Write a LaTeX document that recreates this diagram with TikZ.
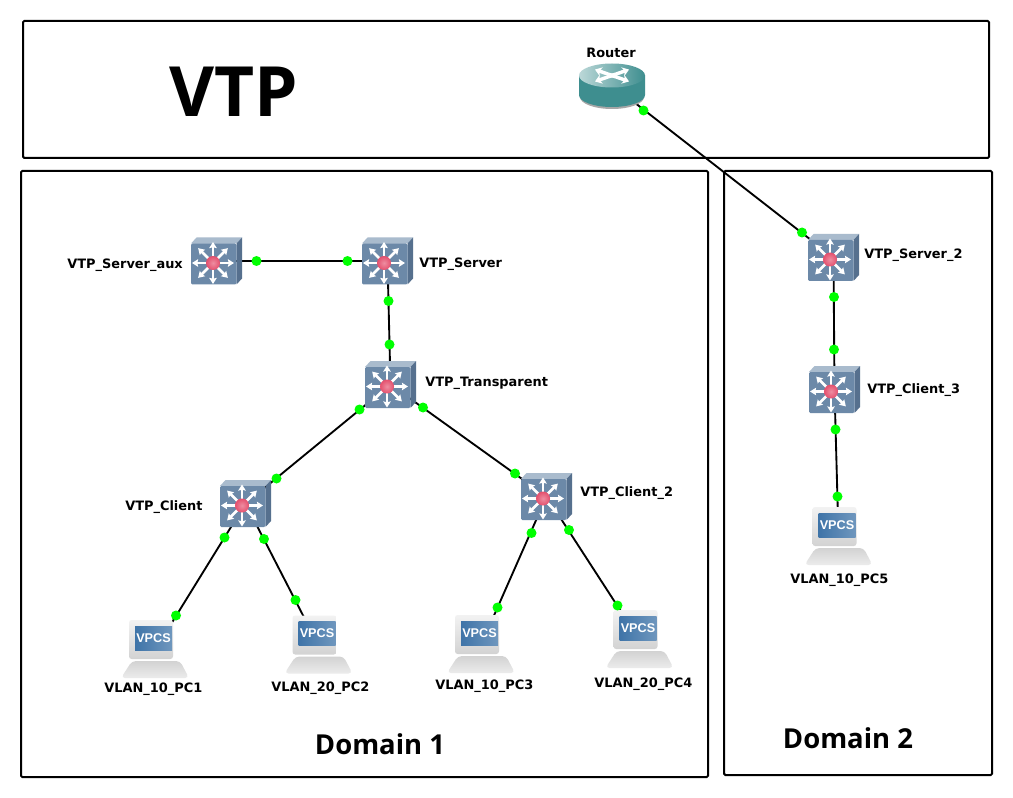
\documentclass[tikz,border=0pt]{standalone}
\usepackage{fontspec}
\setmainfont{DejaVu Sans}
\newfontfamily\titlefont{Open Sans}
\newfontfamily\vpcsfont{Liberation Sans}
\usetikzlibrary{backgrounds,arrows.meta}
\definecolor{swface}{HTML}{6C89A8}
\definecolor{swtop}{HTML}{A9BBCD}
\definecolor{swside}{HTML}{56708E}
\definecolor{swball}{HTML}{E4506E}
\definecolor{routerteal}{HTML}{3E8E8F}
\definecolor{vpcsblue}{HTML}{3F74A8}
\tikzset{
  box/.style={draw=black, line width=1.5pt, rounded corners=1pt},
  link/.style={draw=black, line width=1.4pt},
  port/.style={circle, fill=green, inner sep=0pt, minimum size=7.5pt},
  devlabel/.style={anchor=west, inner sep=0pt, font=\bfseries\fontsize{9.7}{11}\selectfont},
  device/.style={inner sep=0pt, minimum width=38pt, minimum height=35pt},
  spoke/.style={white, line width=2pt, -{Stealth[length=4.5pt,width=5.5pt,inset=0.5pt]}},
  pics/switchicon/.style={code={
    \fill[swtop] (-25.5,-17.5) -- (-20,-23.5) -- (25.5,-23.5) -- (20,-17.5) -- cycle;
    \fill[swside] (20,-17.5) -- (25.5,-23.5) -- (25.5,17.5) -- (20,23.5) -- cycle;
    \fill[swface, rounded corners=1pt] (-25.5,-17.5) rectangle (20,23.5);
    \foreach \a in {0,45,...,315}
      \draw[spoke] (-3.5,2) -- ++(\a:21);
    \shade[inner color=swball!65!white, outer color=swball] (-3.5,2) circle (7);
  }},
  pics/routericon/.style={code={
    \fill[gray!70] (-32,12) arc[start angle=180, end angle=0, x radius=32, y radius=12] -- cycle;
    \fill[routerteal] (-33,-9.5) -- (-33,10) arc[start angle=180, end angle=0, x radius=33, y radius=12] -- (33,-9.5) -- cycle;
    \shade[left color=routerteal!35!white, right color=routerteal] (0,-9.5) ellipse (33 and 12);
    \foreach \a/\b in {-20/-7,20/-7,-20/7,20/7}
      \draw[white, line width=2.6pt, -{Stealth[length=5pt,width=7pt]}] (-\a*0.15,-9.5-\b*0.15) -- ++(\a,\b);
  }},
  pics/pcicon/.style={code={
    \shade[top color=gray!35, bottom color=gray!15, rounded corners=3pt] (-23,11) -- (25,11) -- (34,28) -- (-34,28) -- cycle;
    \shade[top color=gray!10, bottom color=gray!35, rounded corners=2pt] (-26,-30) rectangle (18,9);
    \shade[left color=vpcsblue, right color=vpcsblue!75!white] (-20,-24) rectangle (17,0);
    \node[white, inner sep=0pt, font=\vpcsfont\bfseries\fontsize{9.5}{10}\selectfont] (\pcname text) at (-1.5,-12) {VPCS};
  }},
}
\begin{document}
\begin{tikzpicture}[x=0.75pt, y=-0.75pt]
\useasboundingbox (0,0) rectangle (1013,798);
\begin{pgfonlayer}{background}
\fill[white] (0,0) rectangle (1013,798);
\end{pgfonlayer}

\draw[box] (23,21) rectangle (989,158);
\draw[box] (21,171) rectangle (708,777);
\draw[box] (724,171) rectangle (992,775);

\node[font=\titlefont\bfseries\fontsize{52}{54}\selectfont, inner sep=0pt] (title) at (234,92) {VTP};
\node[font=\titlefont\bfseries\fontsize{20.6}{24}\selectfont, inner sep=0pt] (domain1) at (380,744) {Domain 1};
\node[font=\titlefont\bfseries\fontsize{20.6}{24}\selectfont, inner sep=0pt] (domain2) at (848,738) {Domain 2};

\node[device] (router) at (612,85) {};
\path (router) pic {routericon};
\node[devlabel, anchor=center] (routerlabel) at (611,52.5) {Router};

% switches
\foreach \n/\x/\y/\lx/\ly/\t in {
  aux/216.5/261/67/265/VTP\_Server\_aux,
  server/387.5/261/419/264.5/VTP\_Server,
  transparent/390.5/384.5/425/383.5/VTP\_Transparent,
  client/245.5/503.5/125/507.5/VTP\_Client,
  clienttwo/546.5/496.5/580/493.5/VTP\_Client\_2,
  servertwo/833.5/257.5/864/255.5/VTP\_Server\_2,
  clientthree/834.5/389.5/867/390.5/VTP\_Client\_3} {
  \node[device] (\n) at (\x,\y) {};
  \path (\n) pic {switchicon};
  \node[devlabel] (\n label) at (\lx,\ly) {\t};
}

% pcs
\foreach \n/\x/\y/\lx/\ly/\t in {
  pca/155/650/104/689.5/VLAN\_10\_PC1,
  pcb/318.5/645.5/271/688.5/VLAN\_20\_PC2,
  pcc/481/645/435/686.5/VLAN\_10\_PC3,
  pcd/639.5/640/594/684.5/VLAN\_20\_PC4,
  pce/838.5/537/790/580.5/VLAN\_10\_PC5} {
  \node[device] (\n) at (\x,\y) {};
  \def\pcname{\n}
  \path (\n) pic {pcicon};
  \node[devlabel] (\n label) at (\lx,\ly) {\t};
}

\begin{pgfonlayer}{background}
\foreach \a/\b in {aux/server, server/transparent, transparent/client, transparent/clienttwo,
  client/pca, client/pcb, clienttwo/pcc, clienttwo/pcd, router/servertwo, servertwo/clientthree, clientthree/pce}
  \draw[link] (\a.center) -- (\b.center);
\end{pgfonlayer}

% green dots
\foreach \n/\x/\y in {a/256.5/261, b/347.5/261, c/388.5/301, d/389.5/344.5, e/359.5/409.5, f/276.5/478.5, g/423/407.5, h/515/473.5,
  i/224.5/537.5, j/176/615.5, k/264/539, l/295.5/600, m/531.5/533, o/497.5/607.5, p/569/530, q/617.5/605.5,
  r/643.5/110.5, s/802/232.5, t/834/297, u/834/349.5, v/835.5/429.5, w/837.5/496.5}
  \node[port] (port \n) at (\x,\y) {};
\end{tikzpicture}
\end{document}
